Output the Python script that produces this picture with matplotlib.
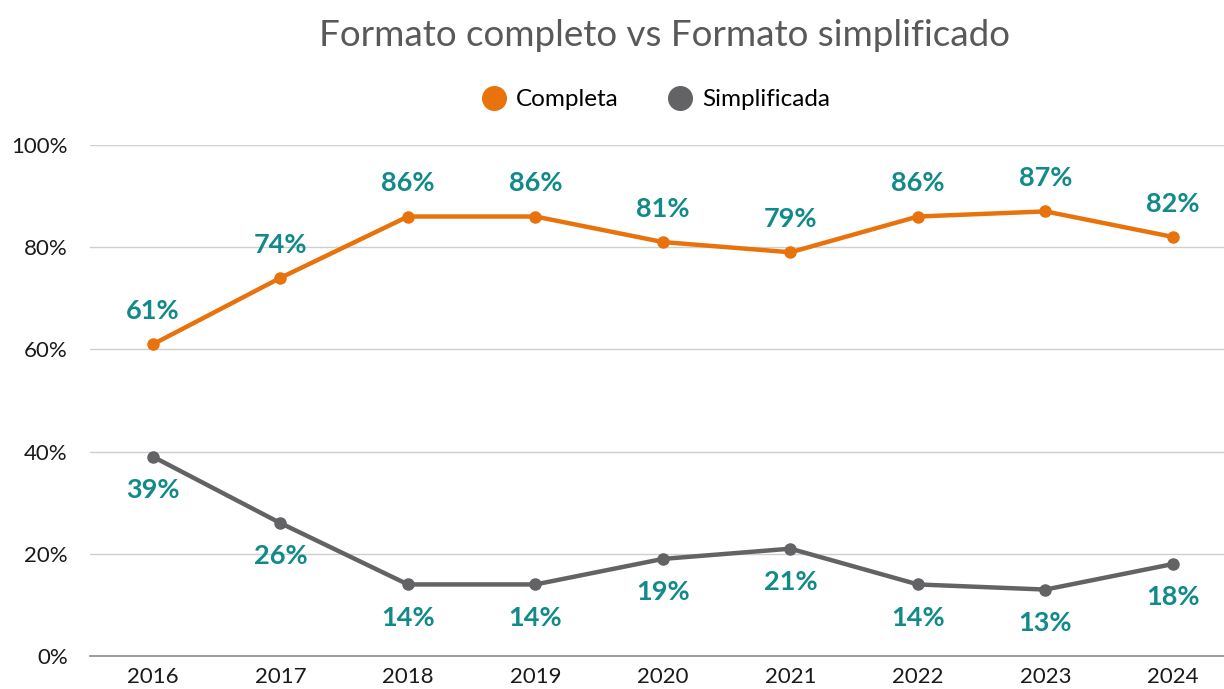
import matplotlib.pyplot as plt
from matplotlib.lines import Line2D

# Dados
YEARS = [2016, 2017, 2018, 2019, 2020, 2021, 2022, 2023, 2024]
COMPLETA = [61, 74, 86, 86, 81, 79, 86, 87, 82]
SIMPLIFICADA = [39, 26, 14, 14, 19, 21, 14, 13, 18]
Y_TICKS = [0, 20, 40, 60, 80, 100]

COLOR_COMPLETA = "#e8730c"
COLOR_SIMPLIFICADA = "#636366"
COLOR_LABEL = "#138a8a"
COLOR_GRID = "#cfcfcf"
COLOR_TEXT = "#1a1a1a"
COLOR_TITLE = "#595959"

plt.rcParams["font.family"] = ["Lato", "DejaVu Sans"]

fig = plt.figure(figsize=(12.24, 6.89), dpi=100)
ax = fig.add_axes([0.0735, 0.0479, 0.9265, 0.7417])

ax.plot(YEARS, COMPLETA, color=COLOR_COMPLETA, linewidth=3.2, marker="o", markersize=8, zorder=3)
ax.plot(YEARS, SIMPLIFICADA, color=COLOR_SIMPLIFICADA, linewidth=3.2, marker="o", markersize=8, zorder=3)

# Rotulos de dados
for x, y in zip(YEARS, COMPLETA):
    ax.annotate(f"{y}%", (x, y), xytext=(0, 24), textcoords="offset points",
                ha="center", va="center", fontsize=19.5, fontweight="bold", color=COLOR_LABEL)
for x, y in zip(YEARS, SIMPLIFICADA):
    ax.annotate(f"{y}%", (x, y), xytext=(0, -24), textcoords="offset points",
                ha="center", va="center", fontsize=19.5, fontweight="bold", color=COLOR_LABEL)

ax.set_xlim(2015.506, 2024.4)
ax.set_ylim(0, 100)
ax.set_xticks(YEARS)
ax.set_xticklabels([str(y) for y in YEARS])
ax.set_yticks(Y_TICKS)
ax.set_yticklabels([f"{t}%" for t in Y_TICKS])
ax.tick_params(axis="both", length=0, labelsize=16, colors=COLOR_TEXT)
ax.tick_params(axis="x", pad=8)
ax.tick_params(axis="y", pad=16)

ax.grid(True, axis="y", color=COLOR_GRID, linewidth=1)
ax.set_axisbelow(True)
for side in ["top", "right", "left"]:
    ax.spines[side].set_visible(False)
ax.spines["bottom"].set_color("#8c8c8c")
ax.spines["bottom"].set_linewidth(1.2)

fig.text(0.543, 0.949, "Formato completo vs Formato simplificado", ha="center", va="center",
         fontsize=26.5, color=COLOR_TITLE)

handles = [
    Line2D([], [], linestyle="none", marker="o", markersize=17, color=COLOR_COMPLETA, label="Completa"),
    Line2D([], [], linestyle="none", marker="o", markersize=17, color=COLOR_SIMPLIFICADA, label="Simplificada"),
]
fig.legend(handles=handles, loc="center", bbox_to_anchor=(0.535, 0.855), ncol=2, frameon=False,
           fontsize=17.5, handletextpad=0.3, columnspacing=1.9, handlelength=1.2)

fig.savefig("out.png", dpi=100)
